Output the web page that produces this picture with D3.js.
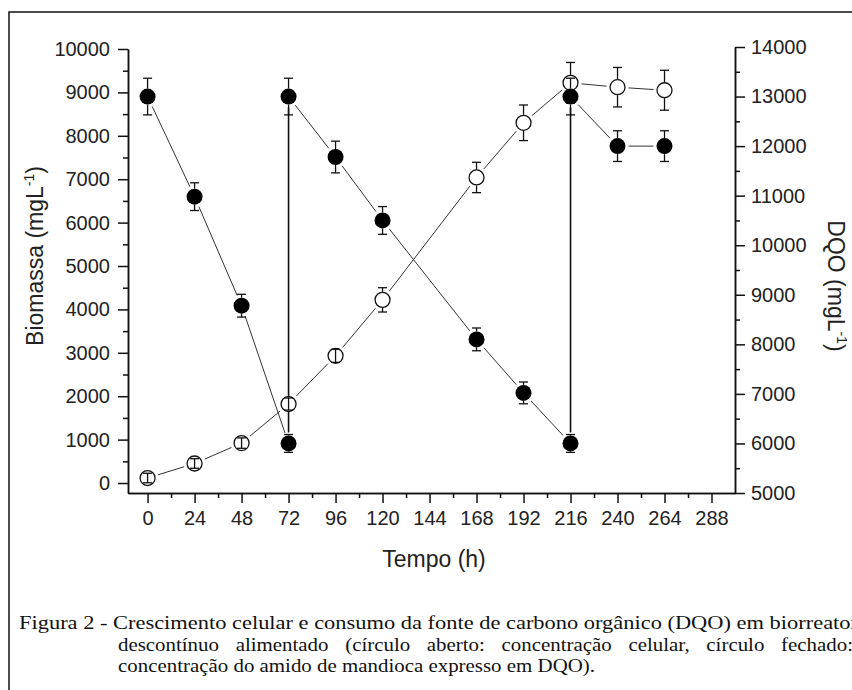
<!DOCTYPE html>
<html>
<head>
<meta charset="utf-8">
<script src="https://cdn.jsdelivr.net/npm/d3@7"></script>
<style>
  body { margin: 0; background: #fff; }
  svg { display: block; }
  .axis path, .axis line { stroke: #111; stroke-width: 1.5; }
  .axis text { font-family: "Liberation Sans", Arial, sans-serif; font-size: 20px; fill: #222; }
</style>
</head>
<body>
<svg width="852" height="690"></svg>
<script>
const WIDTH = 852;
const HEIGHT = 690;

// biomassa (open circles, left axis)
var bioTime  = [0, 24, 48, 72, 96, 120, 168, 192, 216, 240, 264];
var bioValue = [115, 450, 920, 1820, 2930, 4220, 7040, 8300, 9220, 9120, 9050];
var bioError = [110, 110, 120, 140, 150, 280, 350, 410, 470, 455, 460];

// DQO (filled circles, right axis) - feeding at 72 h and 216 h
var dqoTime  = [0, 24, 48, 72, 72, 96, 120, 168, 192, 216, 216, 240, 264];
var dqoValue = [13000, 10980, 8780, 6000, 13000, 11780, 10500, 8100, 7020, 6000, 13000, 12000, 12000];
var dqoError = [370, 280, 230, 180, 370, 320, 280, 230, 220, 180, 370, 310, 310];

var xTicks = [0, 24, 48, 72, 96, 120, 144, 168, 192, 216, 240, 264, 288];
var xMinor = [12, 36, 60, 84, 108, 132, 156, 180, 204, 228, 252, 276];
var leftTicks = [0, 1000, 2000, 3000, 4000, 5000, 6000, 7000, 8000, 9000, 10000];
var leftMinor = [500, 1500, 2500, 3500, 4500, 5500, 6500, 7500, 8500, 9500];
var rightTicks = [5000, 6000, 7000, 8000, 9000, 10000, 11000, 12000, 13000, 14000];
var rightMinor = [5500, 6500, 7500, 8500, 9500, 10500, 11500, 12500, 13500];

var captionLines = [
  'Figura 2 - Crescimento celular e consumo da fonte de carbono orgânico (DQO) em biorreator',
  'descontínuo alimentado (círculo aberto: concentração celular, círculo fechado:',
  'concentração do amido de mandioca expresso em DQO).'
];

var svg = d3.select('svg');

// frame round the figure (right and bottom fall off the picture)
svg.append('rect')
  .attr('x', 9).attr('y', 12)
  .attr('width', 900).attr('height', 700)
  .attr('fill', 'none').attr('stroke', '#111').attr('stroke-width', 1.5);

// scales
var xScale = d3.scaleLinear().domain([-10, 300]).range([128, 735]);
var yLeft = d3.scaleLinear().domain([-230, 10000]).range([493, 49]);
var yRight = d3.scaleLinear().domain([5000, 14000]).range([493, 47]);

// axes
var fmt = d3.format('d');
svg.append('g').attr('class', 'axis')
  .attr('transform', 'translate(0,493)')
  .call(d3.axisBottom(xScale).tickValues(xMinor).tickSize(5).tickSizeOuter(0).tickFormat(''));
svg.append('g').attr('class', 'axis')
  .attr('transform', 'translate(0,493)')
  .call(d3.axisBottom(xScale).tickValues(xTicks).tickSize(10).tickPadding(8).tickSizeOuter(0).tickFormat(fmt));

svg.append('g').attr('class', 'axis')
  .attr('transform', 'translate(128,0)')
  .call(d3.axisLeft(yLeft).tickValues(leftMinor).tickSize(5).tickSizeOuter(0).tickFormat(''));
svg.append('g').attr('class', 'axis')
  .attr('transform', 'translate(128,0)')
  .call(d3.axisLeft(yLeft).tickValues(leftTicks).tickSize(10).tickPadding(8).tickSizeOuter(0).tickFormat(fmt));

svg.append('g').attr('class', 'axis')
  .attr('transform', 'translate(735,0)')
  .call(d3.axisRight(yRight).tickValues(rightMinor).tickSize(5).tickSizeOuter(0).tickFormat(''));
svg.append('g').attr('class', 'axis')
  .attr('transform', 'translate(735,0)')
  .call(d3.axisRight(yRight).tickValues(rightTicks).tickSize(10).tickPadding(6).tickSizeOuter(0).tickFormat(fmt));

// axis titles
var titleFont = '"Liberation Sans", Arial, sans-serif';
svg.append('text')
  .attr('x', 434).attr('y', 567)
  .attr('text-anchor', 'middle')
  .style('font-family', titleFont).style('font-size', '23px').style('fill', '#222')
  .text('Tempo (h)');

function unitTitle(label, x, y, angle) {
  var t = svg.append('text')
    .attr('transform', 'translate(' + x + ',' + y + ') rotate(' + angle + ')')
    .attr('text-anchor', 'middle')
    .style('font-family', titleFont).style('font-size', '23px').style('fill', '#222');
  t.append('tspan').text(label + ' (mgL');
  t.append('tspan').attr('dy', -9).style('font-size', '14px').text('-1');
  t.append('tspan').attr('dy', 9).text(')');
}
unitTitle('Biomassa', 43, 256, -90);
unitTitle('DQO', 828, 286, 90);

// connecting lines, stopped short of the symbols
var GAP = 11;
function connect(times, values, yScale) {
  var pts = times.map(function(t, i){ return [xScale(t), yScale(values[i])]; });
  for (var i = 1; i < pts.length; i++) {
    var p = pts[i - 1], q = pts[i];
    var dx = q[0] - p[0], dy = q[1] - p[1];
    var d = Math.sqrt(dx * dx + dy * dy);
    if (d <= 2 * GAP) continue;
    var ux = dx / d, uy = dy / d;
    var vertical = Math.abs(dx) < 0.5;
    svg.append('line')
      .attr('x1', p[0] + ux * GAP).attr('y1', p[1] + uy * GAP)
      .attr('x2', q[0] - ux * GAP).attr('y2', q[1] - uy * GAP)
      .attr('stroke', vertical ? '#111' : '#333')
      .attr('stroke-width', vertical ? 1.6 : 1);
  }
}
connect(bioTime, bioValue, yLeft);
connect(dqoTime, dqoValue, yRight);

// error bars: stem outside the symbol, caps at the ends
var R = 8, CAP = 4.5;
function errorBars(times, values, errors, yScale) {
  var g = svg.append('g').attr('stroke', '#111').attr('stroke-width', 1.3);
  times.forEach(function(t, i){
    var cx = xScale(t), cy = yScale(values[i]);
    var top = yScale(values[i] + errors[i]), bot = yScale(values[i] - errors[i]);
    if (cy - top > R) {
      g.append('line').attr('x1', cx).attr('x2', cx).attr('y1', top).attr('y2', cy - R);
      g.append('line').attr('x1', cx).attr('x2', cx).attr('y1', cy + R).attr('y2', bot);
    } else {
      g.append('line').attr('x1', cx).attr('x2', cx).attr('y1', top).attr('y2', bot);
    }
    [top, bot].forEach(function(yy){
      g.append('line').attr('x1', cx - CAP).attr('x2', cx + CAP).attr('y1', yy).attr('y2', yy);
    });
  });
}

svg.append('g').selectAll('circle')
  .data(bioTime)
  .enter()
  .append('circle')
  .attr('cx', function(d){ return xScale(d); })
  .attr('cy', function(d, i){ return yLeft(bioValue[i]); })
  .attr('r', 7.5)
  .attr('fill', '#fff').attr('stroke', '#111').attr('stroke-width', 1.3);
errorBars(bioTime, bioValue, bioError, yLeft);

svg.append('g').selectAll('circle')
  .data(dqoTime)
  .enter()
  .append('circle')
  .attr('cx', function(d){ return xScale(d); })
  .attr('cy', function(d, i){ return yRight(dqoValue[i]); })
  .attr('r', R)
  .attr('fill', '#000');
errorBars(dqoTime, dqoValue, dqoError, yRight);

// caption, serif, a little wide; first line stretched, middle line justified
var SX = 1.1;
var cap = svg.append('g')
  .attr('transform', 'scale(' + SX + ',1)')
  .style('font-family', '"Liberation Serif", "Times New Roman", serif')
  .style('font-size', '19px').style('fill', '#111');

function captionLine(text, x0, x1, y, justify) {
  var words = text.split(' ');
  var widths = [];
  var nodes = words.map(function(w){
    var n = cap.append('text').attr('y', y).text(w);
    widths.push(n.node().getComputedTextLength());
    return n;
  });
  var total = d3.sum(widths);
  var space = 4.75;
  if (justify) space = ((x1 - x0) / SX - total) / (words.length - 1);
  var x = x0 / SX;
  nodes.forEach(function(n, i){
    n.attr('x', x);
    x += widths[i] + space;
  });
}

// first line runs past the right edge of the picture, as in the source
cap.append('text')
  .attr('x', 19 / SX).attr('y', 629)
  .attr('textLength', (858 - 19) / SX)
  .attr('lengthAdjust', 'spacingAndGlyphs')
  .text(captionLines[0]);
captionLine(captionLines[1], 118, 853, 651, true);
captionLine(captionLines[2], 118, 595, 672, false);
</script>
</body>
</html>
